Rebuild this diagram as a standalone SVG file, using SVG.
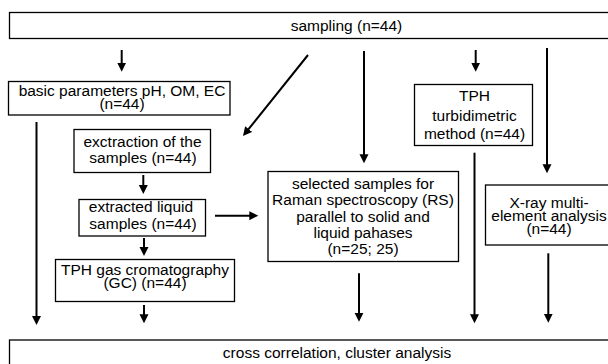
<svg xmlns="http://www.w3.org/2000/svg" width="608" height="364" viewBox="0 0 608 364">
<style>
.box{fill:#fff;stroke:#000;stroke-width:1.3}
.t{font-family:"Liberation Sans",Arial,sans-serif;font-size:15.5px;fill:#000;text-anchor:middle}
.c{stroke:#000;stroke-width:2;fill:none}
.a{marker-end:url(#ah)}
</style>
<defs>
<marker id="ah" markerUnits="userSpaceOnUse" markerWidth="10" markerHeight="10" refX="5" refY="4.5" orient="auto">
<path d="M0,0 L9,4.5 L0,9 z" fill="#000"/>
</marker>
</defs>
<rect width="608" height="364" fill="#fff"/>
<g id="connectors">
<line class="c a" x1="121.7" y1="50" x2="121.7" y2="67.7"/>
<line class="c a" x1="308" y1="55" x2="245.5" y2="132.9"/>
<line class="c a" x1="364" y1="51" x2="364" y2="159.3"/>
<line class="c a" x1="475.7" y1="50" x2="475.7" y2="67.7"/>
<line class="c a" x1="547" y1="48" x2="547" y2="169.3"/>
<line class="c a" x1="36.5" y1="122" x2="36.5" y2="321"/>
<line class="c a" x1="143.3" y1="175" x2="143.3" y2="190"/>
<line class="c a" x1="215" y1="215.7" x2="254.3" y2="215.7"/>
<line class="c a" x1="144" y1="238" x2="144" y2="252"/>
<line class="c a" x1="144" y1="305" x2="144" y2="319.3"/>
<line class="c a" x1="359" y1="273.3" x2="359" y2="317.7"/>
<line class="c a" x1="474.5" y1="152.7" x2="474.5" y2="319.3"/>
<line class="c a" x1="548.3" y1="253.3" x2="548.3" y2="318.7"/>
</g>
<g id="sampling">
<rect class="box" x="9.5" y="12.5" width="700" height="26"/>
<text class="t" x="346.5" y="30.5">sampling (n=44)</text>
</g>
<g id="basic">
<rect class="box" x="8.5" y="81.5" width="221.5" height="33.5"/>
<text class="t" x="122" y="96">basic parameters pH, OM, EC</text>
<text class="t" x="122" y="109.3">(n=44)</text>
</g>
<g id="extraction">
<rect class="box" x="74" y="129.5" width="136.5" height="43"/>
<text class="t" x="142.5" y="146.7">exctraction of the</text>
<text class="t" x="143" y="162.7">samples (n=44)</text>
</g>
<g id="extracted">
<rect class="box" x="79" y="199.5" width="126.5" height="36.5"/>
<text class="t" x="141" y="212">extracted liquid</text>
<text class="t" x="143" y="229.3">samples (n=44)</text>
</g>
<g id="gc">
<rect class="box" x="55.5" y="259.5" width="179" height="42"/>
<text class="t" x="145" y="275">TPH gas cromatography</text>
<text class="t" x="145" y="288.3">(GC) (n=44)</text>
</g>
<g id="selected">
<rect class="box" x="268" y="171.5" width="190.5" height="90"/>
<text class="t" x="363" y="189">selected samples for</text>
<text class="t" x="363" y="205.3">Raman spectroscopy (RS)</text>
<text class="t" x="363" y="221.6">parallel to solid and</text>
<text class="t" x="363" y="237.9">liquid pahases</text>
<text class="t" x="363" y="254.2">(n=25; 25)</text>
</g>
<g id="tph">
<rect class="box" x="414.5" y="84.5" width="118" height="61"/>
<text class="t" x="474.5" y="101.3">TPH</text>
<text class="t" x="474.5" y="120.5">turbidimetric</text>
<text class="t" x="474.5" y="139">method (n=44)</text>
</g>
<g id="xray">
<rect class="box" x="485.5" y="185" width="200" height="60"/>
<text class="t" x="549" y="207.8">X-ray multi-</text>
<text class="t" x="549" y="221">element analysis</text>
<text class="t" x="549" y="234">(n=44)</text>
</g>
<g id="bottom">
<rect class="box" x="9.5" y="340" width="700" height="40"/>
<text class="t" x="337" y="358.3">cross correlation, cluster analysis</text>
</g>
</svg>
